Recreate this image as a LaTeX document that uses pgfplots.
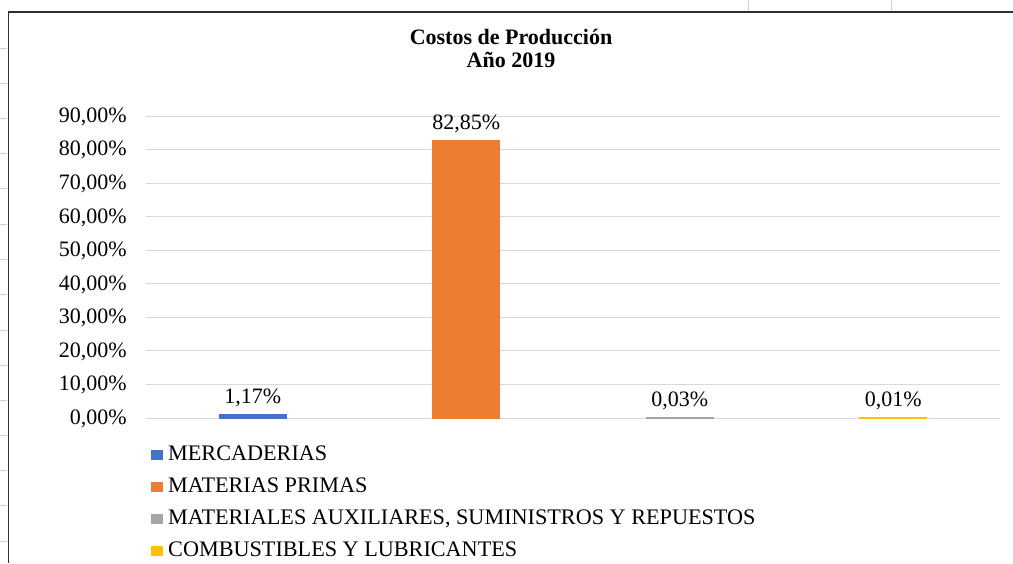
\documentclass[border=0pt]{standalone}
\usepackage{pgfplots}
\pgfplotsset{compat=1.18}
\usepackage{fontspec}
\setmainfont{Liberation Serif}
\definecolor{cblue}{HTML}{4472C4}
\definecolor{corange}{HTML}{ED7D31}
\definecolor{cgray}{HTML}{A5A5A5}
\definecolor{cgold}{HTML}{FFC000}
\definecolor{gridc}{HTML}{D9D9D9}
\definecolor{framec}{HTML}{303030}
\definecolor{cellc}{HTML}{D0D0D0}
\begin{document}
\begin{tikzpicture}
\useasboundingbox (0pt,0pt) rectangle (1013pt,-563pt);
% spreadsheet cell lines around the chart frame
\foreach \yy in {48,83,118,153,188,224,259,294,330,365,400,435,470,505,541}
  \draw[cellc, line width=0.8pt] (0pt,-\yy pt) -- (7pt,-\yy pt);
\draw[cellc, line width=0.8pt] (748pt,0pt) -- (748pt,-11pt);
\draw[cellc, line width=0.8pt] (891pt,0pt) -- (891pt,-11pt);
\draw[framec, line width=1.5pt] (8.3pt,-563pt) -- (8.3pt,-12pt) -- (1013pt,-12pt);
% title
\node[anchor=base, font=\bfseries\fontsize{22}{23}\selectfont, inner sep=0pt] at (511pt,-44pt) {Costos de Producción};
\node[anchor=base, font=\bfseries\fontsize{22}{23}\selectfont, inner sep=0pt] at (511pt,-67pt) {Año 2019};
\begin{axis}[
  at={(146pt,-418pt)}, anchor=south west,
  scale only axis, width=854pt, height=302pt,
  xmin=-0.5, xmax=3.5, ymin=0, ymax=90,
  ytick={0,10,...,90}, xtick=\empty,
  axis line style={draw=none},
  major tick length=0pt,
  ymajorgrids, major grid style={gridc, line width=1pt},
  /pgf/number format/assume math mode=true,
  yticklabel={\pgfmathprintnumber[fixed,fixed zerofill,precision=2,use comma]{\tick}\%},
  yticklabel style={anchor=east, inner sep=0pt, xshift=-19pt, yshift=-0.8pt, font=\fontsize{22}{24}\selectfont},
  ybar, bar width=67pt,
  nodes near coords={\pgfmathprintnumber[fixed,fixed zerofill,precision=2,use comma]{\pgfplotspointmeta}\%},
  every node near coord/.append style={anchor=base, inner sep=0pt, yshift=11pt, font=\fontsize{22}{24}\selectfont, text=black},
  legend image code/.code={\fill[#1] (0pt,-4.5pt) rectangle (11pt,4.5pt);},
  legend cell align=left,
  legend style={at={(axis description cs:0,0)}, anchor=north west, xshift=5pt, yshift=-26pt,
    draw=none, fill=none, inner sep=0pt, row sep=11pt, column sep=5pt,
    font=\fontsize{22.2}{24}\selectfont,
    nodes={inner sep=0pt, text height=16pt, text depth=5pt}},
]
\addplot[fill=cblue, draw=cblue, line width=1pt, bar shift=0pt] coordinates {(0,1.17)};
\addlegendentry{MERCADERIAS}
\addplot[fill=corange, draw=corange, line width=1pt, bar shift=0pt] coordinates {(1,82.85)};
\addlegendentry{MATERIAS PRIMAS}
\addplot[fill=cgray, draw=cgray, line width=1pt, bar shift=0pt] coordinates {(2,0.03)};
\addlegendentry{MATERIALES AUXILIARES, SUMINISTROS Y REPUESTOS}
\addplot[fill=cgold, draw=cgold, line width=1pt, bar shift=0pt] coordinates {(3,0.01)};
\addlegendentry{COMBUSTIBLES Y LUBRICANTES}
\end{axis}
\end{tikzpicture}
\end{document}
